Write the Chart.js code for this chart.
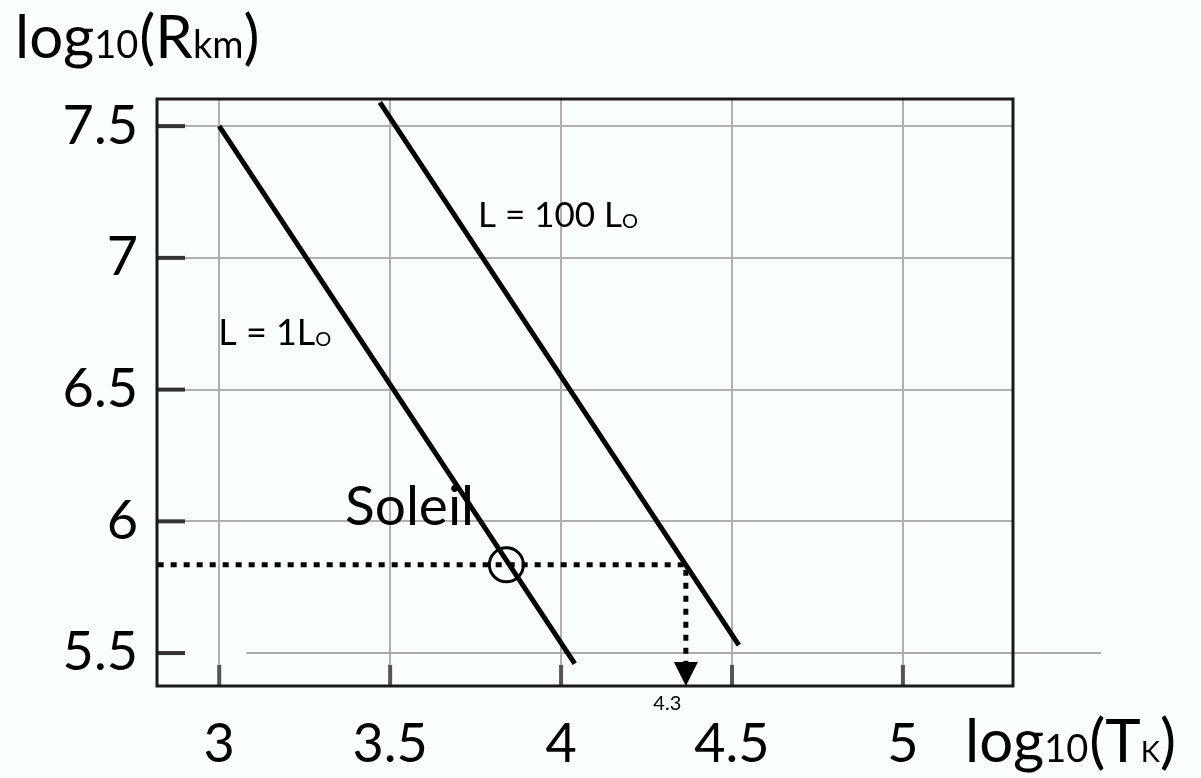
<!DOCTYPE html>
<html>
<head>
<meta charset="utf-8">
<script src="https://cdn.jsdelivr.net/npm/chart.js@4.4.0/dist/chart.umd.min.js"></script>
<style>
  body { margin: 0; background: #fafefe; }
  #wrap { width: 1201px; height: 778px; }
</style>
</head>
<body>
<div id="wrap"><canvas id="myChart"></canvas></div>
<script>
// droites L = 1 Lsol et L = 100 Lsol (log10 T, log10 R)
const logT_L1 = [3.0, 4.04];
const logR_L1 = [7.5, 5.46];
const logT_L100 = [3.47, 4.52];
const logR_L100 = [7.59, 5.53];

// soleil
const logT_sun = [3.84];
const logR_sun = [5.835];

// pointilles vers l'axe (4.3)
const logT_dots = [2.82, 4.365, 4.365];
const logR_dots = [5.835, 5.835, 5.375];

// la ligne grise a 5.5 qui depasse du cadre
const logT_grid55 = [3.08, 5.58];
const logR_grid55 = [5.5, 5.5];

const xTicks = [3, 3.5, 4, 4.5, 5];
const yTicks = [5.5, 6, 6.5, 7, 7.5];
const xRange = [2.818, 5.322];
const yRange = [5.375, 7.603];

const FONT = "Lato";

function pts(xs, ys) {
    var out = [];
    for (var i = 0; i < xs.length; i++) {
        out.push({ x: xs[i], y: ys[i] });
    }
    return out;
}

function richText(ctx, parts, x, y) {
    for (var i = 0; i < parts.length; i++) {
        ctx.font = parts[i][1] + "px " + FONT;
        ctx.fillText(parts[i][0], x, y + (parts[i][2] || 0));
        x += ctx.measureText(parts[i][0]).width + (parts[i][3] || 0);
    }
}

const decor = {
    id: "decor",
    beforeDraw: function (chart) {
        var ctx = chart.ctx;
        ctx.save();
        ctx.fillStyle = "#fafefe";
        ctx.fillRect(0, 0, chart.width, chart.height);
        ctx.restore();
    },
    afterDraw: function (chart) {
        var ctx = chart.ctx;
        var a = chart.chartArea;
        var sx = chart.scales.x;
        var sy = chart.scales.y;
        ctx.save();

        // petites graduations a l'interieur
        ctx.lineWidth = 4;
        ctx.strokeStyle = "#333";
        yTicks.forEach(function (v) {
            var py = sy.getPixelForValue(v);
            ctx.beginPath();
            ctx.moveTo(a.left, py);
            ctx.lineTo(a.left + 28, py);
            ctx.stroke();
        });
        ctx.strokeStyle = "#555";
        xTicks.forEach(function (v) {
            var px = sx.getPixelForValue(v);
            ctx.beginPath();
            ctx.moveTo(px, a.bottom);
            ctx.lineTo(px, a.bottom - 21);
            ctx.stroke();
        });

        // cadre
        ctx.lineWidth = 3;
        ctx.strokeStyle = "#1a1a1a";
        ctx.strokeRect(a.left, a.top, a.right - a.left, a.bottom - a.top);

        // fleche
        var ax = sx.getPixelForValue(logT_dots[2]);
        var tip = sy.getPixelForValue(logR_dots[2]);
        ctx.fillStyle = "#000";
        ctx.beginPath();
        ctx.moveTo(ax - 12, tip - 24);
        ctx.lineTo(ax + 12, tip - 24);
        ctx.lineTo(ax, tip);
        ctx.closePath();
        ctx.fill();

        // textes
        ctx.fillStyle = "#000";
        ctx.textBaseline = "alphabetic";
        ctx.textAlign = "left";
        richText(ctx, [["log", 60], ["10", 38, 0, 1], ["(R", 60], ["km", 38], [")", 60]], 15, 58);
        richText(ctx, [["log", 60], ["10", 38, 0, 1], ["(T", 60], ["K", 29], [")", 60]], 965, 762);

        richText(ctx, [["Soleil", 55]], sx.getPixelForValue(3.368), sy.getPixelForValue(5.986));
        richText(ctx, [["L = 1L", 36], ["O", 20, 1]], sx.getPixelForValue(2.997), sy.getPixelForValue(6.669));
        richText(ctx, [["L = 100 L", 35], ["O", 20, 1]], sx.getPixelForValue(3.757), sy.getPixelForValue(7.117));
        richText(ctx, [["4.3", 20]], sx.getPixelForValue(4.27), sy.getPixelForValue(5.285));

        ctx.restore();
    },
};

new Chart(document.getElementById("myChart"), {
    type: "scatter",
    data: {
        datasets: [
            {
                label: "L = 1 Lsol",
                data: pts(logT_L1, logR_L1),
                showLine: true,
                borderColor: "#000",
                borderWidth: 5,
                pointRadius: 0,
                order: 1,
            },
            {
                label: "L = 100 Lsol",
                data: pts(logT_L100, logR_L100),
                showLine: true,
                borderColor: "#000",
                borderWidth: 5,
                pointRadius: 0,
                order: 1,
            },
            {
                label: "pointilles",
                data: pts(logT_dots, logR_dots),
                showLine: true,
                borderColor: "#000",
                borderWidth: 5,
                borderDash: [6, 7],
                borderCapStyle: "butt",
                pointRadius: 0,
                order: 2,
            },
            {
                label: "Soleil",
                data: pts(logT_sun, logR_sun),
                pointStyle: "circle",
                pointRadius: 17,
                pointBorderWidth: 3,
                pointBorderColor: "#000",
                pointBackgroundColor: "rgba(0,0,0,0)",
                order: 0,
            },
            {
                label: "grille 5.5",
                data: pts(logT_grid55, logR_grid55),
                showLine: true,
                borderColor: "#aaa",
                borderWidth: 2,
                pointRadius: 0,
                clip: false,
                order: 10,
            },
        ],
    },
    options: {
        responsive: true,
        maintainAspectRatio: false,
        animation: false,
        events: [],
        layout: {
            padding: { top: 99, right: 188, left: 0, bottom: 0 },
        },
        plugins: {
            legend: { display: false },
            tooltip: { enabled: false },
        },
        scales: {
            x: {
                type: "linear",
                min: xRange[0],
                max: xRange[1],
                afterBuildTicks: function (s) {
                    s.ticks = xTicks.map(function (v) { return { value: v }; });
                },
                afterFit: function (s) {
                    s.height = 92;
                },
                grid: {
                    color: "#b0b0b0",
                    lineWidth: 2,
                    drawTicks: false,
                },
                border: { display: false },
                ticks: {
                    padding: 26,
                    color: "#000",
                    font: { family: FONT, size: 54 },
                    callback: function (v) { return String(v); },
                },
            },
            y: {
                type: "linear",
                min: yRange[0],
                max: yRange[1],
                afterBuildTicks: function (s) {
                    s.ticks = yTicks.map(function (v) { return { value: v }; });
                },
                afterFit: function (s) {
                    s.width = 157;
                },
                grid: {
                    color: function (c) {
                        return c.tick && c.tick.value === 5.5 ? "rgba(0,0,0,0)" : "#b0b0b0";
                    },
                    lineWidth: 2,
                    drawTicks: false,
                },
                border: { display: false },
                ticks: {
                    padding: 19,
                    color: "#000",
                    font: { family: FONT, size: 54 },
                    callback: function (v) { return String(v); },
                },
            },
        },
    },
    plugins: [decor],
});
</script>
</body>
</html>
